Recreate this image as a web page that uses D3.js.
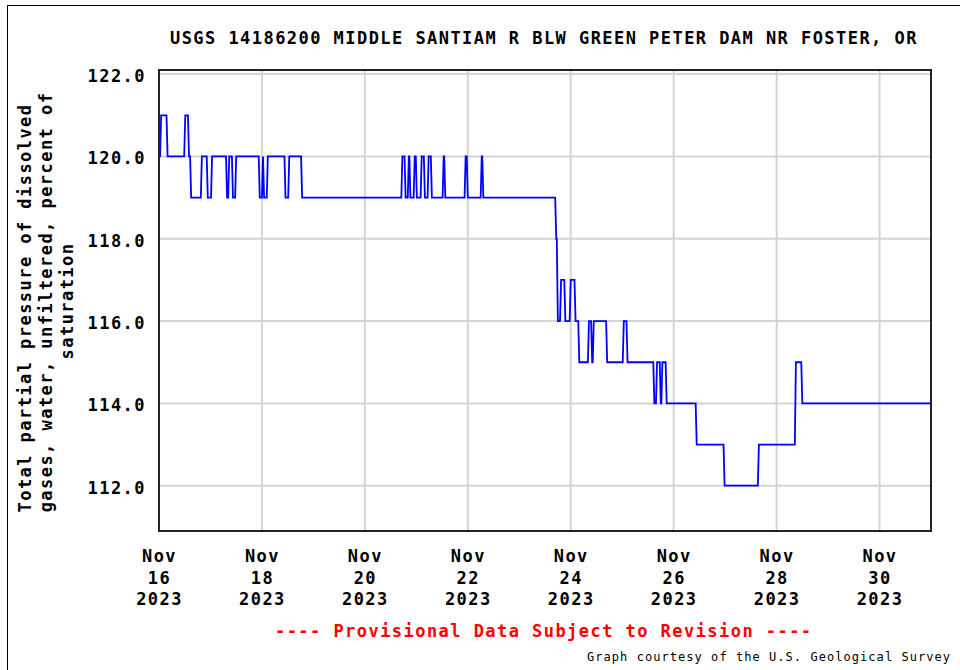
<!DOCTYPE html>
<html>
<head>
<meta charset="utf-8">
<script src="https://cdn.jsdelivr.net/npm/d3@7"></script>
<style>
  html, body { margin: 0; padding: 0; background: #fff; }
  svg { display: block; }
  .mono { font-family: "DejaVu Sans Mono", "Liberation Mono", monospace; }
</style>
</head>
<body>
<svg id="chart" width="960" height="670"></svg>
<script>
// ---------------- data ----------------
const chartTitle = "USGS 14186200 MIDDLE SANTIAM R BLW GREEN PETER DAM NR FOSTER, OR";
const yTitleLines = [
  "Total partial pressure of dissolved",
  "gases, water, unfiltered, percent of",
  "saturation"
];
const provisionalText = "---- Provisional Data Subject to Revision ----";
const creditText = "Graph courtesy of the U.S. Geological Survey";

// start of record (Nov 16 2023 00:00) and end of the time window (Dec 1 2023 00:00)
const startDay = "2023-11-16";
const endDay = "2023-12-01";

// hours after Nov 16 00:00 at which a new reading takes effect
const hours = [
  0, 1, 4, 12.25, 14, 15, 20, 22.75, 24.75, 31.75, 32.75, 34.5, 36,
  47, 48.5, 49, 50.75, 59, 60.75, 66.75,
  113.5, 115, 116.5, 117.25, 119.25, 120.25, 122.5, 124, 125.75, 127.25,
  132.75, 133.5, 143, 144, 150.5, 151.25,
  185.25, 186, 187.5, 189.5, 192, 194.25, 196, 200.5, 202, 202.75, 209,
  216.75, 218.5, 231, 232.25, 234, 234.75, 236.75,
  250.75, 263.75, 279.75, 297, 300, 360
];
// percent of saturation
const values = [
  120, 121, 120, 121, 120, 119, 120, 119, 120, 119, 120, 119, 120,
  119, 120, 119, 120, 119, 120, 119,
  120, 119, 120, 119, 120, 119, 120, 119, 120, 119,
  120, 119, 120, 119, 120, 119,
  118, 116, 117, 116, 117, 116, 115, 116, 115, 116, 115,
  116, 115, 114, 115, 114, 115, 114,
  113, 112, 113, 115, 114, 114
];

const xTickDays = ["2023-11-16","2023-11-18","2023-11-20","2023-11-22",
                   "2023-11-24","2023-11-26","2023-11-28","2023-11-30"];
const yTicks = [112, 114, 116, 118, 120, 122];
const yDomain = [110.9, 122.1];

// ---------------- layout ----------------
const plot = { left: 159, right: 931, top: 70, bottom: 531 };
const fontSize = 17, spacing = 1.45;
const rampHours = 0.5; // readings change over a short interval

const parseDay = d3.utcParse("%Y-%m-%d");
const t0 = parseDay(startDay);
const hourMs = 3600e3;
const readings = hours.map((h, i) => ({ t: new Date(t0.getTime() + h * hourMs), v: values[i] }));
// expand to a held-value series: previous value is held until just before each change
const series = [];
readings.forEach((d, i) => {
  if (i > 0 && d.v !== readings[i - 1].v) {
    series.push({ t: new Date(d.t.getTime() - rampHours * hourMs), v: readings[i - 1].v });
  }
  series.push(d);
});

const x = d3.scaleUtc().domain([t0, parseDay(endDay)]).range([plot.left, plot.right]);
const y = d3.scaleLinear().domain(yDomain).range([plot.bottom, plot.top]);

const svg = d3.select("#chart");

// outer border (only left/top visible in the crop)
svg.append("rect")
  .attr("x", 7.5).attr("y", 5.5).attr("width", 1200).attr("height", 1200)
  .attr("fill", "#fff").attr("stroke", "#000").attr("stroke-width", 1);

// grid lines
const grid = svg.append("g").attr("stroke", "#d4d4d4").attr("stroke-width", 2);
grid.selectAll("line.h").data(yTicks).join("line")
  .attr("x1", plot.left).attr("x2", plot.right)
  .attr("y1", d => y(d)).attr("y2", d => y(d));
grid.selectAll("line.v").data(xTickDays.map(parseDay)).join("line")
  .attr("y1", plot.top).attr("y2", plot.bottom)
  .attr("x1", d => x(d)).attr("x2", d => x(d));

// data line
const line = d3.line().x(d => x(d.t)).y(d => y(d.v));
svg.append("path").datum(series)
  .attr("d", line)
  .attr("fill", "none")
  .attr("stroke", "#0000ff")
  .attr("stroke-width", 1.8)
  .attr("stroke-linejoin", "miter");

// plot frame
svg.append("rect")
  .attr("x", plot.left).attr("y", plot.top)
  .attr("width", plot.right - plot.left).attr("height", plot.bottom - plot.top)
  .attr("fill", "none").attr("stroke", "#222").attr("stroke-width", 2);

// y axis
const yAxis = d3.axisLeft(y).tickValues(yTicks).tickFormat(d3.format(".1f")).tickSize(0).tickPadding(13);
const gy = svg.append("g").attr("transform", `translate(${plot.left},0)`).call(yAxis);
gy.select(".domain").remove();
gy.selectAll("text")
  .attr("class", "mono")
  .attr("font-size", fontSize).attr("font-weight", "bold")
  .attr("letter-spacing", spacing)
  .attr("fill", "#000")
  .attr("dy", "0.44em");

// x axis (three-line labels)
const fmtMon = d3.utcFormat("%b"), fmtDay = d3.utcFormat("%-d"), fmtYear = d3.utcFormat("%Y");
const xAxis = d3.axisBottom(x).tickValues(xTickDays.map(parseDay)).tickSize(0).tickFormat("");
const gx = svg.append("g").attr("transform", `translate(0,${plot.bottom})`).call(xAxis);
gx.select(".domain").remove();
gx.selectAll(".tick text").each(function(d) {
  const t = d3.select(this)
    .attr("class", "mono").attr("font-size", fontSize).attr("font-weight", "bold")
    .attr("letter-spacing", spacing).attr("fill", "#000")
    .attr("y", 0).attr("dy", null).text(null);
  [fmtMon(d), fmtDay(d), fmtYear(d)].forEach((s, i) => {
    t.append("tspan").attr("x", 0).attr("y", 31 + i * 21.5).text(s);
  });
});

// title
svg.append("text").attr("class", "mono")
  .attr("x", 170).attr("y", 44)
  .attr("font-size", fontSize).attr("font-weight", "bold")
  .attr("letter-spacing", spacing)
  .text(chartTitle);

// y axis title
const yTitlePos = [{ bx: 30.5, cy: 308 }, { bx: 51.5, cy: 302 }, { bx: 73, cy: 301 }];
yTitleLines.forEach((s, i) => {
  svg.append("text").attr("class", "mono")
    .attr("transform", `translate(${yTitlePos[i].bx},${yTitlePos[i].cy}) rotate(-90)`)
    .attr("text-anchor", "middle")
    .attr("font-size", fontSize).attr("font-weight", "bold")
    .attr("letter-spacing", spacing)
    .text(s);
});

// provisional note
svg.append("text").attr("class", "mono")
  .attr("x", 275).attr("y", 637)
  .attr("font-size", fontSize).attr("font-weight", "bold")
  .attr("letter-spacing", spacing)
  .attr("fill", "#ff0000")
  .text(provisionalText);

// credit
svg.append("text").attr("class", "mono")
  .attr("x", 587).attr("y", 661)
  .attr("font-size", 12)
  .attr("letter-spacing", 1.05)
  .text(creditText);
</script>
</body>
</html>
